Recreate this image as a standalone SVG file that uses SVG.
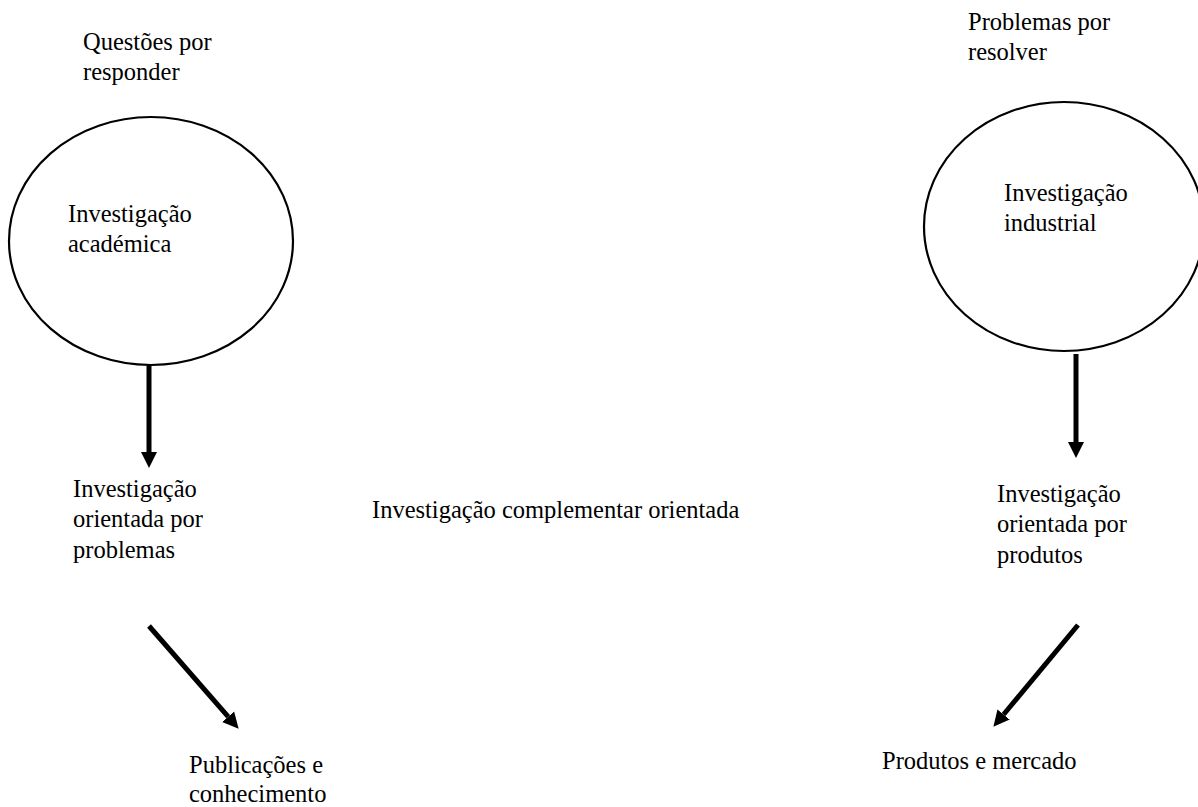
<svg xmlns="http://www.w3.org/2000/svg" width="1198" height="807" viewBox="0 0 1198 807">
<style>
text{font-family:"Liberation Serif","Times New Roman",serif;font-size:24.5px;fill:#000}
.node{fill:none;stroke:#000;stroke-width:2.2}
.conn{stroke:#000;stroke-width:5;fill:none}
</style>
<defs>
<marker id="ah" markerUnits="userSpaceOnUse" markerWidth="18" markerHeight="18" viewBox="0 0 18 18" refX="0" refY="9" orient="auto">
<path d="M0,1 L16,9 L0,17 Z" fill="#000"/>
</marker>
</defs>
<rect width="1198" height="807" fill="#fff"/>
<g id="label-questoes"><text x="83" y="50">Questões por</text><text x="83" y="80">responder</text></g>
<g id="label-problemas"><text x="968" y="30">Problemas por</text><text x="968" y="60">resolver</text></g>
<g id="node-academica"><ellipse class="node" cx="151" cy="241" rx="142" ry="124"/><text x="68" y="222">Investigação</text><text x="68" y="252">académica</text></g>
<g id="node-industrial"><ellipse class="node" cx="1064" cy="226.5" rx="140" ry="124.5"/><text x="1004" y="201">Investigação</text><text x="1004" y="231">industrial</text></g>
<g id="node-problemas"><text x="73" y="497">Investigação</text><text x="73" y="527">orientada por</text><text x="73" y="558">problemas</text></g>
<g id="node-complementar"><text x="372" y="518">Investigação complementar orientada</text></g>
<g id="node-produtos"><text x="997" y="502">Investigação</text><text x="997" y="532">orientada por</text><text x="997" y="563">produtos</text></g>
<g id="node-publicacoes"><text x="189" y="773">Publicações e</text><text x="189" y="802">conhecimento</text></g>
<g id="node-mercado"><text x="882" y="769">Produtos e mercado</text></g>
<g id="connectors">
<line class="conn" x1="149" y1="365" x2="149" y2="452" marker-end="url(#ah)"/>
<line class="conn" x1="1076" y1="354" x2="1076" y2="442" marker-end="url(#ah)"/>
<line class="conn" x1="149" y1="626" x2="228.1" y2="716.7" marker-end="url(#ah)"/>
<line class="conn" x1="1078" y1="625" x2="1003.6" y2="714.5" marker-end="url(#ah)"/>
</g>
</svg>
